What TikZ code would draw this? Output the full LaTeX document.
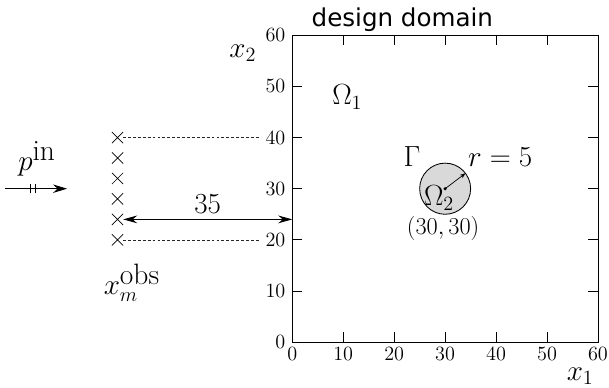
\documentclass[tikz,border=0pt]{standalone}
\usepackage{fontspec}
\newfontfamily\sanslabel{DejaVu Sans}
\usetikzlibrary{arrows.meta,shapes.misc}

\tikzset{
  axisline/.style={line width=0.7pt},
  xlab/.style={inner sep=0pt, font=\fontsize{15.5}{18}\selectfont},
  ylab/.style={inner sep=0pt, anchor=east, font=\fontsize{15.5}{18}\selectfont},
  mathlab/.style={inner sep=0pt, font=\fontsize{21}{25}\selectfont},
  obsmark/.style={cross out, draw, minimum size=7.5pt, inner sep=0pt, line width=0.5pt},
  guide/.style={line width=0.45pt, dash pattern=on 2pt off 1.5pt, black!85}
}

\begin{document}
\begin{tikzpicture}[x=0.1275cm, y=0.128cm]
\useasboundingbox (-57.37,-8.89) rectangle (62.16,66.89);

\coordinate (O) at (0,0);
\coordinate (T) at (60,60);
\coordinate (C) at (30,30);

% domain box and ticks
\draw[axisline] (O) rectangle (T);
\foreach \v in {10,20,...,50} {
  \draw[axisline] (\v,0) -- (\v,2);
  \draw[axisline] (\v,60) -- (\v,58);
  \draw[axisline] (0,\v) -- (2,\v);
  \draw[axisline] (60,\v) -- (58,\v);
}
\foreach \v in {0,10,...,60} {
  \node[xlab] (x\v) at (\v,-2.4) {$\v$};
  \node[ylab] (y\v) at (-1.3,\v) {$\v$};
}

\node[inner sep=0pt, font=\sanslabel\fontsize{17.5}{21}\selectfont] (title) at (21.6,63.0) {design domain};
\node[mathlab] (lx1) at (56.5,-6.7) {$x_1$};
\node[mathlab] (lx2) at (-9.7,56.5) {$x_2$};
\node[mathlab] (om1) at (10.8,47.9) {$\Omega_1$};

% inclusion
\fill[gray!30, draw=black, line width=0.6pt] (C) circle[radius=5];
\fill (C) circle[radius=0.35];
\draw[line width=0.5pt, -{Stealth[length=4pt,width=3pt]}] (C) -- ++(37:5);
\node[mathlab] (om2) at (28.8,28.2) {$\Omega_2$};
\node[mathlab] (gam) at (23.5,36.2) {$\Gamma$};
\node[mathlab] (rad) at (40.8,36.2) {$r=5$};
\node[inner sep=0pt, font=\fontsize{17}{20}\selectfont] (cen) at (29.6,22.2) {$(30,30)$};

% observation points
\foreach \k [count=\i] in {20,24,...,40}
  \node[obsmark] (o\i) at (-34.3,\k) {};
\draw[guide, shorten >=4pt] (o6.east) -- (y40.west);
\draw[guide, shorten >=4pt] (o1.east) -- (y20.west);
\draw[line width=0.7pt, {Stealth[length=10pt,width=5.5pt]}-{Stealth[length=10pt,width=5.5pt]}]
  (o2.east) -- (O |- o2) node[midway, above=4pt, mathlab, font=\fontsize{20}{24}\selectfont] (dist) {$35$};
\node[mathlab] (xobs) at (-31.5,11.6) {$x_m^{\textstyle\mathrm{obs}}$};

% incident wave
\coordinate (pa) at (-56.4,30);
\coordinate (pb) at (-44.2,30);
\draw[line width=0.7pt, -{Stealth[length=10pt,width=6pt]}] (pa) -- (pb);
\draw[line width=0.7pt] (-51.4,29.1) -- (-51.4,30.9);
\draw[line width=0.7pt] (-50.4,29.1) -- (-50.4,30.9);
\node[mathlab] (pin) at (-50.1,35.8) {$p^{\textstyle\mathrm{in}}$};
\end{tikzpicture}
\end{document}
